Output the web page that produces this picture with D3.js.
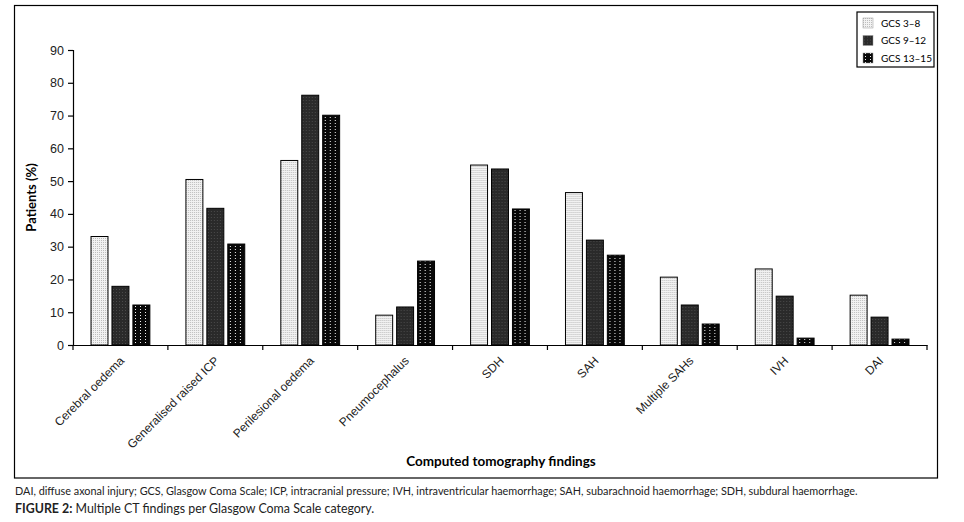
<!DOCTYPE html>
<html>
<head>
<meta charset="utf-8">
<script src="https://cdn.jsdelivr.net/npm/d3@7"></script>
<style>
  body { margin: 0; background: white; }
  svg { display: block; font-family: Lato, "Open Sans", sans-serif; }
  .tick text { fill: #222; }
</style>
</head>
<body>
<div id="chart"></div>
<script>
/* data */
var categories = ["Cerebral oedema", "Generalised raised ICP", "Perilesional oedema", "Pneumocephalus",
                  "SDH", "SAH", "Multiple SAHs", "IVH", "DAI"]
var seriesNames = ["GCS 3\u20138", "GCS 9\u201312", "GCS 13\u201315"]
var gcs3to8   = [33.1, 50.5, 56.3, 9.1, 54.9, 46.5, 20.7, 23.2, 15.2]
var gcs9to12  = [17.9, 41.7, 76.2, 11.6, 53.7, 32.0, 12.2, 14.9, 8.5]
var gcs13to15 = [12.2, 30.8, 70.1, 25.6, 41.5, 27.4, 6.4, 2.1, 1.8]
var yTicks = [0, 10, 20, 30, 40, 50, 60, 70, 80, 90]

var seriesValues = [gcs3to8, gcs9to12, gcs13to15]
var rows = categories.map(function(c, i) {
  return { cat: c, vals: seriesNames.map(function(s, j) { return { key: s, value: seriesValues[j][i] } }) }
})

/* layout */
var W = 964, H = 522
var plot = { left: 73, right: 927, top: 50, bottom: 345 }

var svg = d3.select("#chart").append("svg")
    .attr("width", W)
    .attr("height", H)

/* fill patterns like the print version */
var defs = svg.append("defs")
var pLight = defs.append("pattern").attr("id", "pLight")
    .attr("patternUnits", "userSpaceOnUse").attr("width", 2).attr("height", 2)
pLight.append("rect").attr("width", 2).attr("height", 2).attr("fill", "#f2f2f2")
pLight.append("rect").attr("width", 1).attr("height", 1).attr("fill", "#bdbdbd")

var pDark = defs.append("pattern").attr("id", "pDark")
    .attr("patternUnits", "userSpaceOnUse").attr("width", 3).attr("height", 3)
pDark.append("rect").attr("width", 3).attr("height", 3).attr("fill", "#2a2a2a")
pDark.append("rect").attr("x", 1).attr("y", 1).attr("width", 1).attr("height", 1).attr("fill", "#4a4a4a")

var pDots = defs.append("pattern").attr("id", "pDots")
    .attr("patternUnits", "userSpaceOnUse").attr("width", 5).attr("height", 3)
pDots.append("rect").attr("width", 5).attr("height", 3).attr("fill", "#080808")
pDots.append("rect").attr("x", 2).attr("y", 0).attr("width", 1).attr("height", 1).attr("fill", "#f0f0f0")

var fills = { "GCS 3\u20138": "url(#pLight)", "GCS 9\u201312": "url(#pDark)", "GCS 13\u201315": "url(#pDots)" }

/* outer frame */
svg.append("rect")
    .attr("x", 14.5).attr("y", 5.5)
    .attr("width", 923).attr("height", 472.5)
    .attr("fill", "none")
    .attr("stroke", "#000")
    .attr("stroke-width", 1.2)

/* scales */
var x0 = d3.scaleBand().domain(categories).range([plot.left, plot.right]).padding(0)
var x1 = d3.scaleBand().domain(seriesNames)
    .range([x0.bandwidth() * 0.19, x0.bandwidth() * 0.81])
    .paddingInner(0.19).paddingOuter(0)
var y = d3.scaleLinear().domain([0, 90]).range([plot.bottom, plot.top])

/* bars */
var groups = svg.append("g").selectAll("g")
    .data(rows)
    .enter().append("g")
    .attr("transform", function(d) { return "translate(" + x0(d.cat) + ",0)" })

groups.selectAll("rect")
    .data(function(d) { return d.vals })
    .enter().append("rect")
    .attr("x", function(d) { return x1(d.key) })
    .attr("y", function(d) { return y(d.value) })
    .attr("width", x1.bandwidth())
    .attr("height", function(d) { return y(0) - y(d.value) })
    .attr("fill", function(d) { return fills[d.key] })
    .attr("stroke", "#000")
    .attr("stroke-width", 1)

/* y axis */
var yAxis = svg.append("g")
    .attr("transform", "translate(" + plot.left + ",0)")
    .call(d3.axisLeft(y).tickValues(yTicks).tickSize(5).tickPadding(4))
yAxis.selectAll("text").style("font-size", "12.5px")
yAxis.selectAll("line, path").attr("stroke", "#000").attr("stroke-width", 1.2)

/* x axis: line, boundary ticks, slanted labels */
var xAxis = svg.append("g")
    .attr("transform", "translate(0," + plot.bottom + ")")
    .call(d3.axisBottom(x0).tickSize(0).tickPadding(0))
xAxis.select(".domain").attr("stroke", "#000").attr("stroke-width", 1.2)
xAxis.selectAll("text")
    .style("font-size", "12px")
    .attr("text-anchor", "end")
    .attr("dy", "0.3em")
    .attr("transform", "translate(2,14) rotate(-45)")

var bounds = categories.map(function(c) { return x0(c) }).concat([plot.right])
svg.append("g").selectAll("line")
    .data(bounds)
    .enter().append("line")
    .attr("x1", function(d) { return d })
    .attr("x2", function(d) { return d })
    .attr("y1", plot.bottom)
    .attr("y2", plot.bottom + 5)
    .attr("stroke", "#000")
    .attr("stroke-width", 1.2)

/* axis titles */
svg.append("text")
    .attr("transform", "translate(36," + ((plot.top + plot.bottom) / 2) + ") rotate(-90)")
    .attr("text-anchor", "middle")
    .style("font-size", "13px")
    .style("font-weight", "bold")
    .text("Patients (%)")

svg.append("text")
    .attr("x", 501)
    .attr("y", 466)
    .attr("text-anchor", "middle")
    .style("font-size", "13.5px")
    .style("font-weight", "bold")
    .text("Computed tomography findings")

/* legend */
var legend = svg.append("g").attr("transform", "translate(857,12)")
legend.append("rect")
    .attr("width", 77).attr("height", 55)
    .attr("fill", "white").attr("stroke", "#000").attr("stroke-width", 1.2)
var items = legend.selectAll("g.item")
    .data(seriesNames)
    .enter().append("g")
    .attr("class", "item")
    .attr("transform", function(d, i) { return "translate(6," + (6 + i * 17.5) + ")" })
items.append("rect")
    .attr("width", 10).attr("height", 10)
    .attr("fill", function(d) { return fills[d] })
    .attr("stroke", "#999").attr("stroke-width", 0.5)
items.append("text")
    .attr("x", 18).attr("y", 5)
    .attr("dy", "0.35em")
    .style("font-size", "10px")
    .text(function(d) { return d })

/* caption under the frame */
svg.append("text")
    .attr("x", 15).attr("y", 495)
    .style("font-size", "10.85px")
    .style("fill", "#222")
    .text("DAI, diffuse axonal injury; GCS, Glasgow Coma Scale; ICP, intracranial pressure; IVH, intraventricular haemorrhage; SAH, subarachnoid haemorrhage; SDH, subdural haemorrhage.")

var cap = svg.append("text")
    .attr("x", 15).attr("y", 513)
    .style("font-size", "12.4px")
    .style("fill", "#222")
cap.append("tspan").style("font-weight", "bold").text("FIGURE 2:")
cap.append("tspan").text(" Multiple CT findings per Glasgow Coma Scale category.")
</script>
</body>
</html>
